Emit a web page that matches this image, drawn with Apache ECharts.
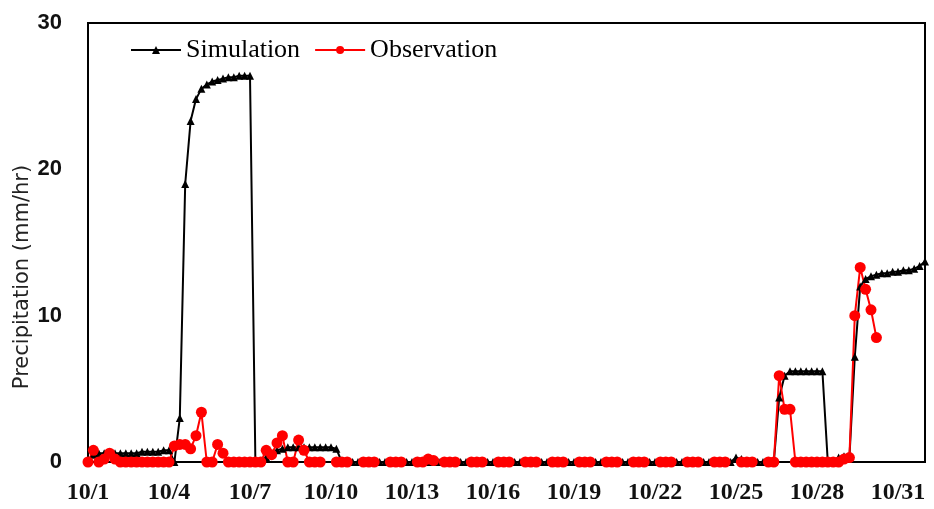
<!DOCTYPE html>
<html>
<head>
<meta charset="utf-8">
<script src="https://cdn.jsdelivr.net/npm/echarts@6/dist/echarts.min.js"></script>
<style>
  html, body { margin: 0; padding: 0; background: #fff; }
  #chart { width: 934px; height: 509px; }
</style>
</head>
<body>
<div id="chart"></div>
<script>
// Sampling step of both records, in days (5 samples per day), starting 10/1 00:00
const stepDays = 0.2;

// Tick labels along the time axis (every 3 days)
const xTickLabels = ['10/1', '10/4', '10/7', '10/10', '10/13', '10/16', '10/19', '10/22', '10/25', '10/28', '10/31'];

// Simulated precipitation (mm/hr)
const simulation = [
  0, 0.5, 0.6, 0.6, 0.6, 0.6, 0.6, 0.6, 0.6, 0.6,
  0.7, 0.7, 0.7, 0.7, 0.8, 0.8, 0, 3.0, 19.0, 23.3,
  24.8, 25.5, 25.8, 26.0, 26.1, 26.2, 26.3, 26.3, 26.4, 26.4,
  26.4, 0, 0, 0.3, 0.6, 0.8, 0.9, 1.0, 1.0, 1.0,
  1.0, 1.0, 1.0, 1.0, 1.0, 1.0, 0.9, 0, 0, 0,
  0, 0, 0, 0, 0, 0, 0, 0, 0, 0,
  0, 0, 0, 0, 0, 0, 0, 0, 0, 0,
  0, 0, 0, 0, 0, 0, 0, 0, 0, 0,
  0, 0, 0, 0, 0, 0, 0, 0, 0, 0,
  0, 0, 0, 0, 0, 0, 0, 0, 0, 0,
  0, 0, 0, 0, 0, 0, 0, 0, 0, 0,
  0, 0, 0, 0, 0, 0, 0, 0, 0, 0,
  0.3, 0.2, 0, 0, 0, 0, 0, 0, 4.4, 5.9,
  6.2, 6.2, 6.2, 6.2, 6.2, 6.2, 6.2, 0, 0, 0.3,
  0.4, 0.3, 7.2, 12.0, 12.5, 12.7, 12.8, 12.9, 12.9, 13.0,
  13.0, 13.1, 13.1, 13.2, 13.4, 13.7
];

// Observed precipitation (mm/hr); null marks a missing reading
const observation = [
  0, 0.8, 0, 0.2, 0.6, 0.2, 0, 0, 0, 0,
  0, 0, 0, 0, 0, 0, 1.1, 1.2, 1.2, 0.9,
  1.8, 3.4, 0, 0, 1.2, 0.6, 0, 0, 0, 0,
  0, 0, 0, 0.8, 0.5, 1.3, 1.8, 0, 0, 1.5,
  0.8, 0, 0, 0, null, null, 0, 0, 0, null,
  null, 0, 0, 0, null, null, 0, 0, 0, null,
  null, 0, 0, 0.2, 0.1, null, 0, 0, 0, null,
  null, 0, 0, 0, null, null, 0, 0, 0, null,
  null, 0, 0, 0, null, null, 0, 0, 0, null,
  null, 0, 0, 0, null, null, 0, 0, 0, null,
  null, 0, 0, 0, null, null, 0, 0, 0, null,
  null, 0, 0, 0, null, null, 0, 0, 0, null,
  null, 0, 0, 0, null, null, 0, 0, 5.9, 3.6,
  3.6, 0, 0, 0, 0, 0, 0, 0, 0, 0,
  0.2, 0.3, 10.0, 13.3, 11.8, 10.4, 8.5
];

const toPairs = arr => arr.map((v, i) => [+(i * stepDays).toFixed(4), v]);

const chart = echarts.init(document.getElementById('chart'), null, { renderer: 'canvas' });

chart.setOption({
  animation: false,
  backgroundColor: '#ffffff',
  grid: {
    left: 88, right: 9, top: 23, bottom: 47,
    show: true, borderColor: '#000', borderWidth: 2
  },
  legend: {
    left: 125, top: 32,
    itemWidth: 50, itemHeight: 10, itemGap: 14,
    textStyle: { fontFamily: 'Liberation Serif', fontSize: 26, color: '#000' },
    data: ['Simulation', 'Observation']
  },
  xAxis: {
    type: 'value',
    min: 0, max: 31, interval: 3,
    axisLine: { show: true, onZero: false, lineStyle: { color: '#000', width: 2 } },
    axisTick: { show: false },
    splitLine: { show: false },
    axisLabel: {
      margin: 19,
      showMaxLabel: false,
      fontFamily: 'Liberation Serif', fontSize: 24, fontWeight: 'bold', color: '#111',
      formatter: v => xTickLabels[Math.round(v / 3)] || ''
    }
  },
  yAxis: {
    type: 'value',
    min: 0, max: 30, interval: 10,
    axisLine: { show: true, lineStyle: { color: '#000', width: 2 } },
    axisTick: { show: false },
    splitLine: { show: false },
    axisLabel: {
      margin: 26,
      fontFamily: 'Liberation Sans', fontSize: 22, fontWeight: 'bold', color: '#111'
    }
  },
  graphic: [{
    type: 'text',
    x: 23, y: 277,
    rotation: Math.PI / 2,
    style: {
      text: 'Precipitation (mm/hr)',
      fontFamily: 'DejaVu Sans', fontSize: 21, fill: '#222',
      align: 'center', verticalAlign: 'middle'
    }
  }],
  series: [
    {
      name: 'Simulation',
      type: 'line',
      data: toPairs(simulation),
      symbol: 'triangle',
      symbolSize: 8,
      showAllSymbol: true,
      color: '#000',
      lineStyle: { color: '#000', width: 2 },
      itemStyle: { color: '#000' }
    },
    {
      name: 'Observation',
      type: 'line',
      data: toPairs(observation),
      symbol: 'circle',
      symbolSize: 11,
      showAllSymbol: true,
      connectNulls: false,
      color: '#ff0000',
      lineStyle: { color: '#ff0000', width: 2 },
      itemStyle: { color: '#ff0000' }
    }
  ]
});
</script>
</body>
</html>
